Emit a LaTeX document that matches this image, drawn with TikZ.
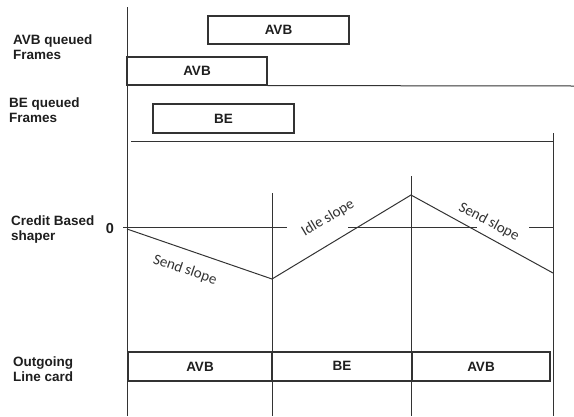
\documentclass[tikz,border=0pt]{standalone}
\usepackage{fontspec}
\setmainfont{Liberation Sans}
\newfontfamily\slopefont{Carlito}
\definecolor{ln}{HTML}{333333}
\definecolor{tx}{HTML}{1E1E1E}
\begin{document}
\begin{tikzpicture}[x=1pt,y=-1pt,
  lbl/.style={anchor=west,align=left,text=tx,font=\fontsize{13.5}{15}\selectfont\bfseries,inner sep=0pt},
  frame/.style={draw=ln,line width=1.1pt,inner sep=0pt,text=tx,font=\fontsize{13.5}{15}\selectfont\bfseries},
  axis/.style={draw=ln,line width=1pt},
  slopetxt/.style={text=ln,font=\fontsize{15}{16}\selectfont\slopefont,inner sep=0pt}]
\useasboundingbox (0,0) rectangle (574,416);
% left labels
\node[lbl] (l1) at (13,47) {AVB queued\\Frames};
\node[lbl] (l2) at (9,110) {BE queued\\Frames};
\node[lbl] (l3) at (11,230) {Credit Based\\shaper};
\node[lbl] (l4) at (13,369) {Outgoing\\Line card};
\node[lbl,anchor=center,font=\fontsize{14.5}{15}\selectfont\bfseries] (zero) at (110,229) {0};
% axes
\coordinate (axtop) at (127,7);
\coordinate (axbot) at (127,416);
\draw[axis] (axtop) -- (axbot);
% queued frames
\node[frame,minimum width=141pt,minimum height=28pt] (avb1) at (278.5,30) {AVB};
\node[frame,minimum width=140pt,minimum height=28pt] (avb2) at (197,71) {AVB};
\coordinate (h1r) at (574,86);
\draw[axis] (avb2.south east) -- (h1r);
\node[frame,minimum width=141pt,minimum height=29pt] (be1) at (223.5,118.5) {BE};
\coordinate (h2l) at (131,141);
\coordinate (h2r) at (553,141);
\coordinate (rtop) at (553,133);
\coordinate (rbot) at (553,416);
\draw[axis] (h2l) -- (h2r);
\draw[axis] (rtop) -- (rbot);
% time verticals
\coordinate (v1t) at (272,193);
\coordinate (v1b) at (272,416);
\coordinate (v2t) at (411,176);
\coordinate (v2b) at (411,416);
\draw[axis] (v1t) -- (v1b);
\draw[axis] (v2t) -- (v2b);
% zero line
\coordinate (z1a) at (123,227); \coordinate (z1b) at (287,227);
\coordinate (z2a) at (348,227); \coordinate (z2b) at (477,227);
\coordinate (z3a) at (529,227); \coordinate (z3b) at (553,227);
\draw[axis] (z1a) -- (z1b);
\draw[axis] (z2a) -- (z2b);
\draw[axis] (z3a) -- (z3b);
% credit curve
\coordinate (c0) at (127,229);
\coordinate (c1) at (272,279);
\coordinate (c2) at (411,195);
\coordinate (c3) at (553,273);
\draw[axis] (c0) -- (c1) -- (c2) -- (c3);
\node[slopetxt,rotate=-19] (s1) at (185,270) {Send slope};
\node[slopetxt,rotate=31] (s2) at (328,218) {Idle slope};
\node[slopetxt,rotate=-28] (s3) at (489,222) {Send slope};
% outgoing line card
\node[frame,minimum width=144pt,minimum height=29pt] (o1) at (200,366.5) {AVB};
\node[frame,minimum width=140pt,minimum height=29pt] (o2) at (342,366.5) {\raisebox{1.5pt}{BE}};
\node[frame,minimum width=138pt,minimum height=29pt] (o3) at (481,366.5) {AVB};
\end{tikzpicture}
\end{document}
